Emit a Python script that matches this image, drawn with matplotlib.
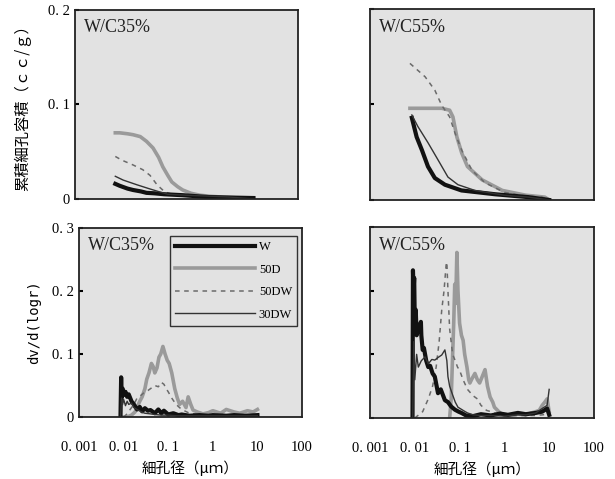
import matplotlib.pyplot as plt

# --- 累積細孔容積 (cc/g) : W/C35% ---
tl_x_w = [0.008, 0.01, 0.015, 0.02, 0.03, 0.04, 0.06, 0.1, 0.26, 0.5, 1, 3, 10]
tl_y_w = [0.016, 0.014, 0.011, 0.0095, 0.008, 0.0065, 0.006, 0.005, 0.004, 0.003, 0.002, 0.0015, 0.001]
tl_x_50d = [0.008, 0.01, 0.015, 0.02, 0.029, 0.04, 0.056, 0.075, 0.093, 0.12, 0.148, 0.2, 0.26, 0.4, 0.63, 1, 2, 5, 10]
tl_y_50d = [0.070, 0.070, 0.069, 0.068, 0.066, 0.061, 0.054, 0.044, 0.034, 0.025, 0.018, 0.013, 0.0095, 0.006,
            0.004, 0.003, 0.002, 0.001, 0.0]
tl_x_50dw = [0.008, 0.0113, 0.02, 0.033, 0.048, 0.069, 0.09, 0.104, 0.15, 0.3, 1, 3, 10]
tl_y_50dw = [0.045, 0.041, 0.036, 0.031, 0.025, 0.015, 0.01, 0.0074, 0.005, 0.004, 0.003, 0.002, 0.001]
tl_x_30dw = [0.008, 0.012, 0.0245, 0.045, 0.08, 0.12, 0.3, 1, 3, 10]
tl_y_30dw = [0.024, 0.02, 0.015, 0.011, 0.0074, 0.005, 0.004, 0.003, 0.002, 0.0]

# --- 累積細孔容積 (cc/g) : W/C55% ---
tr_x_w = [0.0086, 0.011, 0.0145, 0.0197, 0.028, 0.047, 0.11, 0.62, 3.4, 10]
tr_y_w = [0.086, 0.066, 0.052, 0.035, 0.023, 0.016, 0.010, 0.006, 0.003, 0.0]
tr_x_50d = [0.0078, 0.02, 0.04, 0.06, 0.071, 0.087, 0.112, 0.15, 0.32, 0.9, 3, 8, 10]
tr_y_50d = [0.096, 0.096, 0.096, 0.094, 0.087, 0.066, 0.049, 0.035, 0.021, 0.010, 0.005, 0.003, 0.0]
tr_x_50dw = [0.0078, 0.017, 0.028, 0.04, 0.06, 0.079, 0.112, 0.19, 0.37, 1.0, 3, 7, 10]
tr_y_50dw = [0.143, 0.129, 0.115, 0.099, 0.087, 0.070, 0.052, 0.031, 0.018, 0.008, 0.004, 0.003, 0.0]
tr_x_30dw = [0.0086, 0.0117, 0.0197, 0.033, 0.055, 0.092, 0.22, 1, 3.4, 10]
tr_y_30dw = [0.089, 0.077, 0.060, 0.042, 0.024, 0.016, 0.010, 0.005, 0.003, 0.0]

# --- dv/d(logr) : W/C35% ---
bl_x_w = [0.0085, 0.0088, 0.009, 0.0095, 0.01, 0.011, 0.012, 0.013, 0.015, 0.017, 0.02, 0.023, 0.026, 0.03,
          0.035, 0.04, 0.05, 0.06, 0.07, 0.08, 0.1, 0.13, 0.17, 0.2, 0.3, 0.5, 0.8, 1, 2, 3, 5, 10]
bl_y_w = [0.0, 0.063, 0.03, 0.045, 0.035, 0.04, 0.032, 0.036, 0.025, 0.02, 0.012, 0.016, 0.009, 0.014,
          0.01, 0.011, 0.006, 0.012, 0.006, 0.010, 0.004, 0.006, 0.003, 0.004, 0.002, 0.003, 0.002, 0.003,
          0.002, 0.003, 0.002, 0.003]
bl_x_50d = [0.009, 0.012, 0.015, 0.018, 0.02, 0.023, 0.026, 0.03, 0.033, 0.037, 0.042, 0.046, 0.05, 0.056,
            0.062, 0.068, 0.076, 0.085, 0.095, 0.105, 0.12, 0.14, 0.16, 0.18, 0.21, 0.25, 0.28, 0.32, 0.36,
            0.45, 0.6, 0.8, 1.0, 1.5, 2, 3, 4, 6, 8, 10]
bl_y_50d = [0.0, 0.0, 0.003, 0.008, 0.015, 0.025, 0.032, 0.045, 0.06, 0.07, 0.085, 0.08, 0.07, 0.078,
            0.095, 0.1, 0.112, 0.1, 0.09, 0.085, 0.07, 0.045, 0.03, 0.02, 0.025, 0.015, 0.032, 0.02, 0.011,
            0.008, 0.005, 0.007, 0.01, 0.006, 0.012, 0.008, 0.006, 0.01, 0.008, 0.012]
bl_x_50dw = [0.01, 0.012, 0.014, 0.017, 0.02, 0.025, 0.03, 0.035, 0.04, 0.05, 0.06, 0.07, 0.08, 0.09, 0.1,
             0.12, 0.15, 0.2, 0.3, 0.5, 1, 2, 5, 10]
bl_y_50dw = [0.0, 0.005, 0.012, 0.02, 0.03, 0.035, 0.04, 0.042, 0.045, 0.05, 0.048, 0.055, 0.052, 0.045,
             0.04, 0.03, 0.02, 0.012, 0.006, 0.004, 0.003, 0.004, 0.003, 0.004]
bl_x_30dw = [0.0085, 0.009, 0.0095, 0.01, 0.011, 0.012, 0.013, 0.015, 0.017, 0.02, 0.025, 0.03, 0.04, 0.05,
             0.07, 0.1, 0.15, 0.2, 0.3, 0.5, 1, 2, 5, 10]
bl_y_30dw = [0.0, 0.03, 0.02, 0.028, 0.018, 0.025, 0.02, 0.022, 0.015, 0.012, 0.008, 0.006, 0.005, 0.004,
             0.003, 0.003, 0.002, 0.002, 0.002, 0.002, 0.002, 0.002, 0.002, 0.002]

# --- dv/d(logr) : W/C55% ---
br_x_w = [0.0089, 0.0091, 0.0094, 0.0097, 0.01, 0.0105, 0.011, 0.012, 0.013, 0.0137, 0.014, 0.015, 0.016,
          0.018, 0.02, 0.022, 0.025, 0.028, 0.033, 0.038, 0.047, 0.055, 0.065, 0.079, 0.095, 0.11, 0.14, 0.2,
          0.3, 0.5, 0.8, 1.2, 2, 3, 5, 7, 9, 10]
br_y_w = [0.0, 0.232, 0.2, 0.22, 0.15, 0.17, 0.13, 0.14, 0.145, 0.151, 0.13, 0.107, 0.11, 0.09, 0.08, 0.082,
          0.07, 0.065, 0.039, 0.045, 0.028, 0.025, 0.018, 0.013, 0.01, 0.008, 0.004, 0.003, 0.006, 0.004,
          0.007, 0.005, 0.008, 0.006, 0.008, 0.01, 0.015, 0.005]
br_x_50d = [0.06, 0.065, 0.07, 0.074, 0.078, 0.082, 0.087, 0.092, 0.1, 0.11, 0.12, 0.13, 0.146, 0.16, 0.17,
            0.19, 0.22, 0.25, 0.28, 0.32, 0.37, 0.42, 0.48, 0.55, 0.6, 0.8, 1, 1.5, 2, 3, 4, 5, 6, 7, 8, 9, 10]
br_y_50d = [0.0, 0.03, 0.1, 0.149, 0.21, 0.18, 0.26, 0.2, 0.149, 0.13, 0.122, 0.1, 0.08, 0.06, 0.055, 0.062,
            0.07, 0.06, 0.055, 0.065, 0.076, 0.05, 0.033, 0.025, 0.017, 0.008, 0.005, 0.004, 0.006, 0.005,
            0.008, 0.01, 0.012, 0.02, 0.025, 0.03, 0.01]
br_x_50dw = [0.01, 0.015, 0.02, 0.025, 0.03, 0.035, 0.04, 0.045, 0.05, 0.052, 0.055, 0.06, 0.07, 0.08, 0.09,
             0.1, 0.12, 0.15, 0.2, 0.25, 0.3, 0.4, 0.5, 0.7, 1, 2, 5, 10]
br_y_50dw = [0.0, 0.01, 0.03, 0.05, 0.08, 0.12, 0.17, 0.2, 0.24, 0.245, 0.2, 0.14, 0.1, 0.09, 0.08, 0.075,
             0.06, 0.045, 0.035, 0.03, 0.02, 0.012, 0.01, 0.006, 0.004, 0.004, 0.004, 0.006]
br_x_30dw = [0.009, 0.0095, 0.01, 0.011, 0.012, 0.014, 0.017, 0.02, 0.024, 0.028, 0.033, 0.04, 0.047, 0.052,
             0.055, 0.06, 0.067, 0.08, 0.092, 0.12, 0.15, 0.2, 0.3, 0.5, 1, 2, 3, 5, 7, 9, 10]
br_y_30dw = [0.0, 0.12, 0.06, 0.1, 0.08, 0.09, 0.096, 0.085, 0.092, 0.091, 0.095, 0.099, 0.107, 0.09, 0.065,
             0.05, 0.04, 0.025, 0.017, 0.012, 0.008, 0.005, 0.004, 0.004, 0.003, 0.005, 0.005, 0.008, 0.015,
             0.02, 0.045]

series_names = ['W', '50D', '50DW', '30DW']
x_ticks = [0.001, 0.01, 0.1, 1, 10, 100]
x_ticklabels = ['0. 001', '0. 01', '0. 1', '1', '10', '100']

JP = ['Noto Sans CJK JP', 'DejaVu Sans']
SERIF = ['Liberation Serif', 'DejaVu Serif']
BG = '#e2e2e2'

# W: thick black, 50D: thick gray, 50DW: dashed gray, 30DW: thin dark
styles = [
    dict(color='#111111', lw=3.0, ls='-'),
    dict(color='#9a9a9a', lw=2.6, ls='-'),
    dict(color='#6a6a6a', lw=1.1, ls=(0, (3, 3))),
    dict(color='#333333', lw=1.0, ls='-'),
]

fig = plt.figure(figsize=(6.15, 4.79), dpi=100)
ax_tl = fig.add_axes([0.122, 0.5846, 0.3626, 0.3946])
ax_tr = fig.add_axes([0.6016, 0.5825, 0.3642, 0.3988])
ax_bl = fig.add_axes([0.1285, 0.1294, 0.3626, 0.3946])
ax_br = fig.add_axes([0.6016, 0.1273, 0.3642, 0.3988])

panels = [
    (ax_tl, [(tl_x_w, tl_y_w), (tl_x_50d, tl_y_50d), (tl_x_50dw, tl_y_50dw), (tl_x_30dw, tl_y_30dw)], 'W/C35%'),
    (ax_tr, [(tr_x_w, tr_y_w), (tr_x_50d, tr_y_50d), (tr_x_50dw, tr_y_50dw), (tr_x_30dw, tr_y_30dw)], 'W/C55%'),
    (ax_bl, [(bl_x_w, bl_y_w), (bl_x_50d, bl_y_50d), (bl_x_50dw, bl_y_50dw), (bl_x_30dw, bl_y_30dw)], 'W/C35%'),
    (ax_br, [(br_x_w, br_y_w), (br_x_50d, br_y_50d), (br_x_50dw, br_y_50dw), (br_x_30dw, br_y_30dw)], 'W/C55%'),
]

for ax, data, title in panels:
    ax.set_facecolor(BG)
    # draw order: thin lines on top of the thick ones
    for i in [1, 2, 0, 3]:
        xs, ys = data[i]
        ax.plot(xs, ys, label=series_names[i], **styles[i])
    ax.set_xscale('log')
    ax.set_xlim(0.001, 100)
    ax.set_xticks(x_ticks)
    ax.minorticks_off()
    ax.tick_params(axis='x', length=0, pad=17)
    ax.tick_params(axis='y', direction='in', length=3, width=1.5)
    for s in ax.spines.values():
        s.set_linewidth(1.3)
        s.set_color('#222222')
    ax.text(0.04, 0.95, title, transform=ax.transAxes, ha='left', va='top',
            fontsize=13, family=SERIF, color='#222222')

for ax in (ax_tl, ax_tr):
    ax.set_ylim(0, 0.2)
    ax.set_yticks([0, 0.1, 0.2])
    ax.set_xticklabels([])
for ax in (ax_bl, ax_br):
    ax.set_ylim(0, 0.3)
    ax.set_yticks([0, 0.1, 0.2, 0.3])
    ax.set_xticklabels(x_ticklabels, family=SERIF, fontsize=10.5)
    ax.set_xlabel('細孔径（μｍ）', family=JP, fontsize=10.5, labelpad=5)

ax_tl.set_yticklabels(['0', '0. 1', '0. 2'], family=SERIF, fontsize=10.5)
ax_bl.set_yticklabels(['0', '0. 1', '0. 2', '0. 3'], family=SERIF, fontsize=10.5)
ax_tr.set_yticklabels([])
ax_br.set_yticklabels([])

ax_tl.set_ylabel('累積細孔容積（ｃｃ/ｇ）', family=JP, fontsize=11, labelpad=12)
ax_bl.set_ylabel('dv/d(logr)', family=['DejaVu Sans Mono'], fontsize=10, labelpad=8)

handles, labels = ax_bl.get_legend_handles_labels()
order = [labels.index(n) for n in series_names]
leg = ax_bl.legend([handles[i] for i in order], series_names, loc='upper right',
                   bbox_to_anchor=(0.978, 0.958), borderaxespad=0, fancybox=False,
                   handlelength=6.4, handletextpad=0.3, labelspacing=0.85,
                   prop={'family': SERIF, 'size': 9})
leg.get_frame().set_facecolor(BG)
leg.get_frame().set_edgecolor('#333333')
leg.get_frame().set_alpha(1)

fig.savefig('out.png', dpi=100, facecolor='white')
